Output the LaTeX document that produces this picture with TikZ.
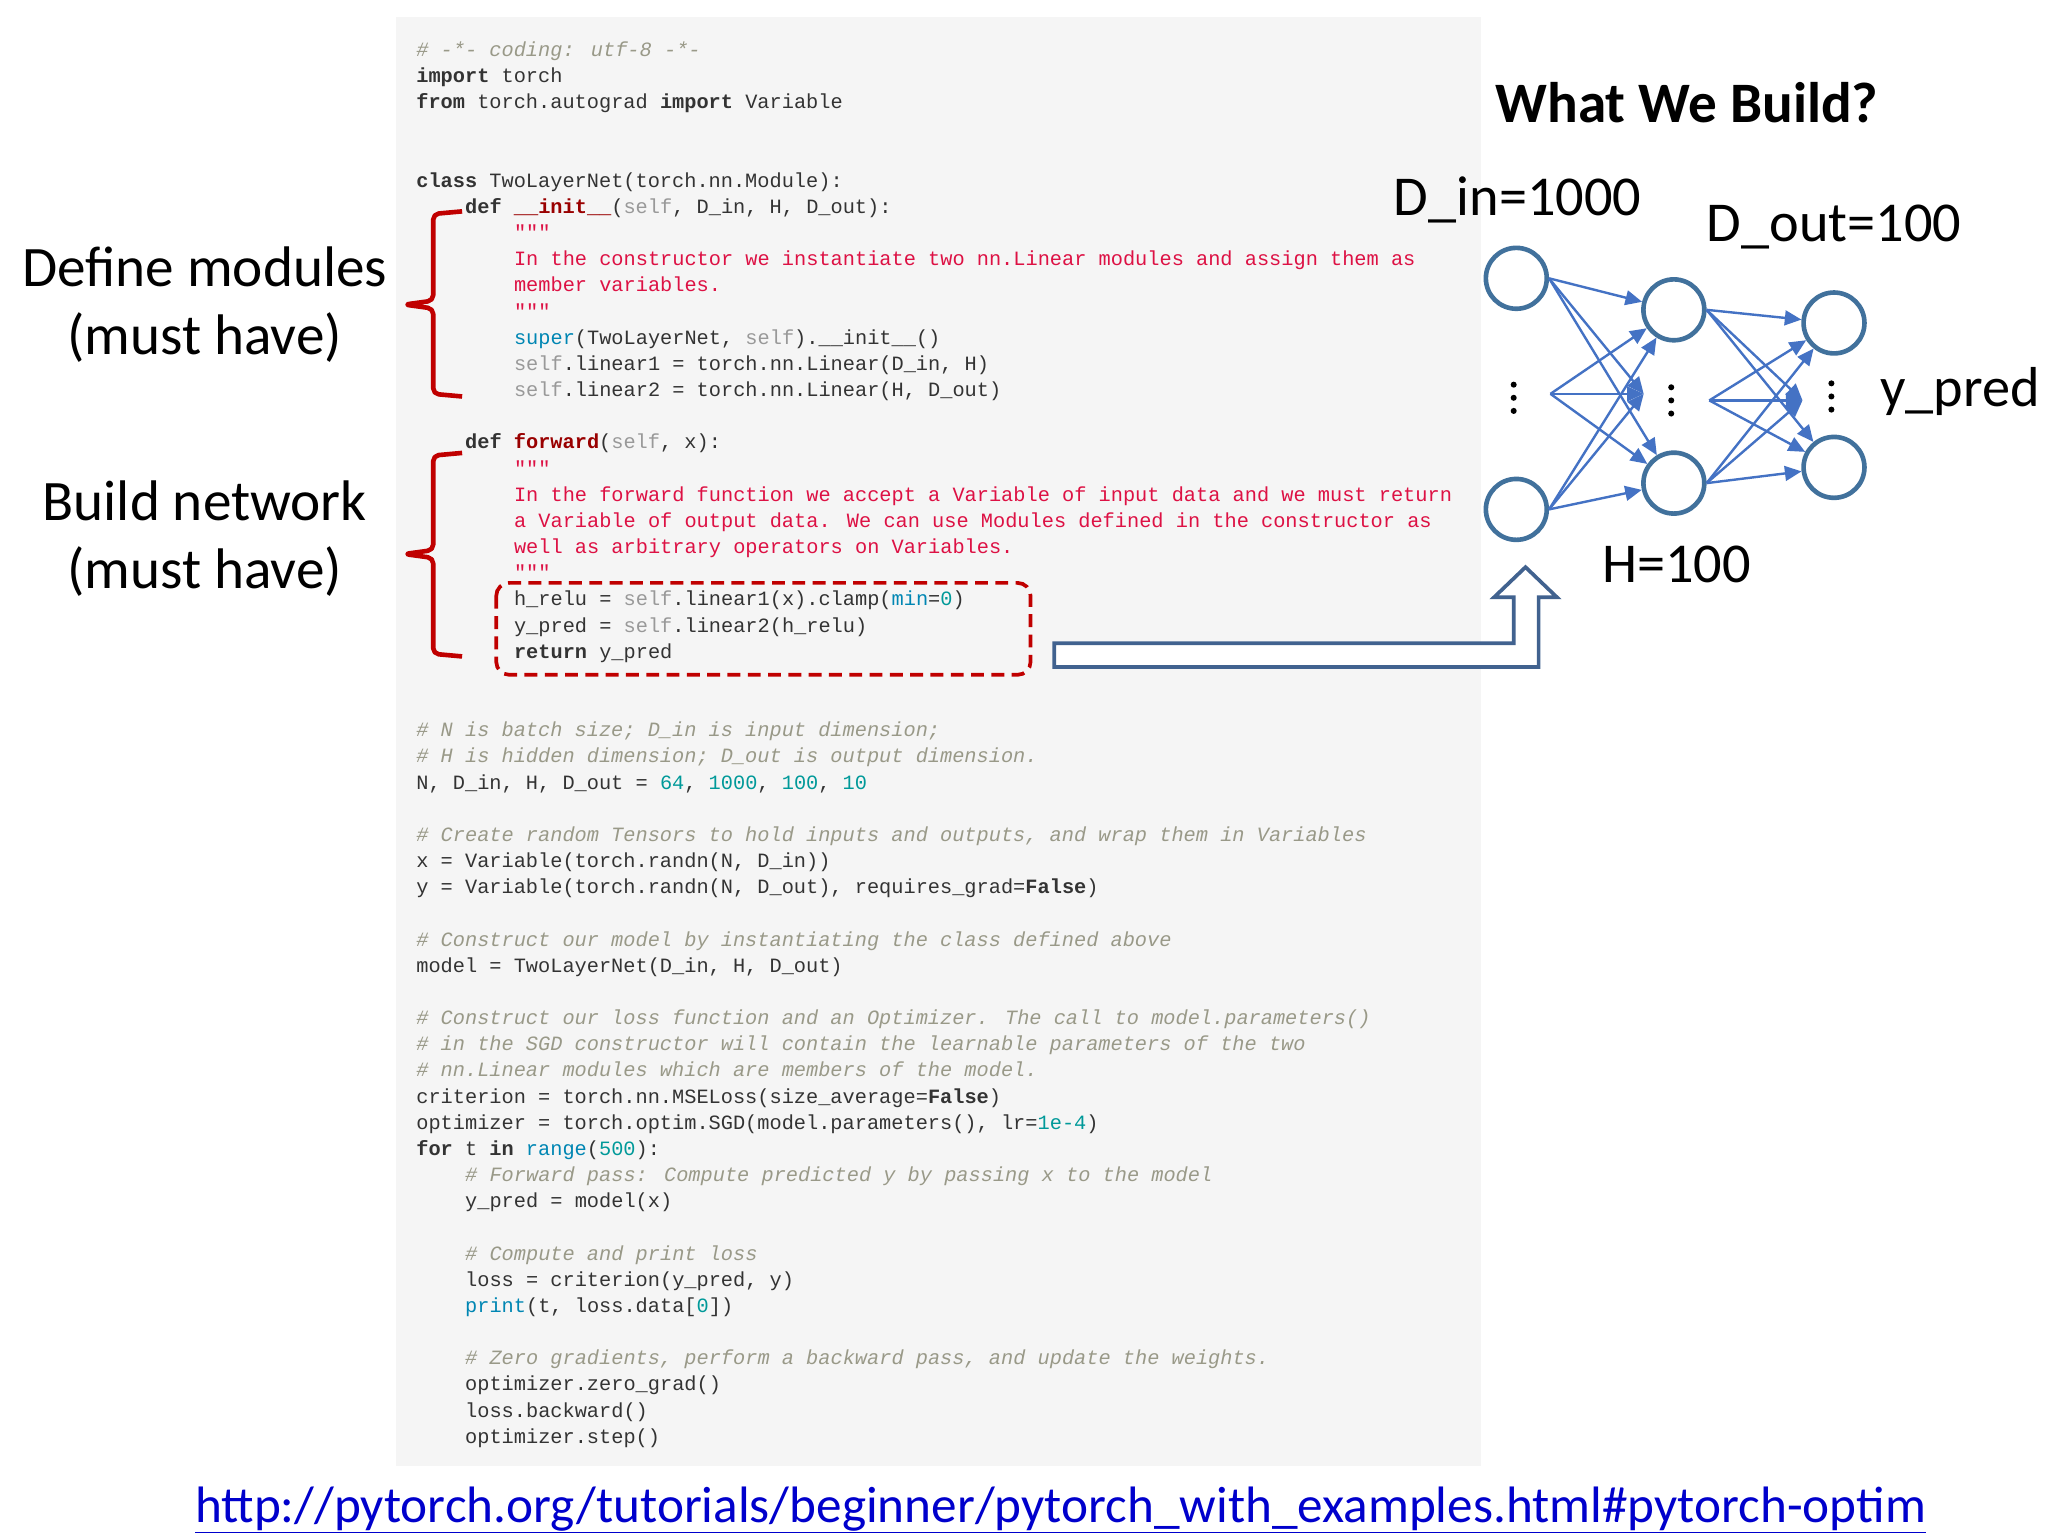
\documentclass[tikz,border=0pt]{standalone}
\usepackage{fontspec}
\setmainfont{Carlito}
\newfontfamily\codefont{Liberation Mono}
\definecolor{cmt}{HTML}{999988}
\definecolor{str}{HTML}{DD1144}
\definecolor{num}{HTML}{009999}
\definecolor{bin}{HTML}{0086B3}
\definecolor{slfc}{HTML}{999999}
\definecolor{fnc}{HTML}{990000}
\definecolor{txt}{HTML}{333333}
\definecolor{brc}{HTML}{C00000}
\definecolor{nn}{HTML}{4472C4}
\definecolor{nnd}{HTML}{41719C}
\definecolor{arr}{HTML}{41628F}
\newcommand{\kw}[1]{\textbf{#1}}
\newcommand{\cm}[1]{{\color{cmt}\itshape #1}}
\newcommand{\st}[1]{{\color{str}#1}}
\newcommand{\nm}[1]{{\color{num}#1}}
\newcommand{\bi}[1]{{\color{bin}#1}}
\newcommand{\slf}{{\color{slfc}self}}
\newcommand{\fn}[1]{{\color{fnc}\bfseries #1}}
\newcommand{\CL}[3]{\node[code] (c#1) at ({317+9.3*#2},{38+19.93*#1+5}) {#3};}
\newcommand{\VD}[2]{\foreach \dd in {-10,0,10}{\fill[black] (#1,#2+\dd) circle (2.3);}}
\tikzset{
 code/.style={anchor=base west,inner sep=0,text=txt,font=\codefont\fontsize{22}{26}\selectfont},
 lab/.style={font=\fontsize{62}{74}\selectfont,align=center,inner sep=0},
 nlab/.style={font=\fontsize{61}{66}\selectfont,inner sep=0},
 neuron/.style={circle,draw=nnd,line width=5pt,minimum size=66pt,inner sep=0},
 edge/.style={nn,line width=2.6pt,-{Triangle[length=18pt,width=16pt]}}
}
\usetikzlibrary{arrows.meta}
\begin{document}
\begin{tikzpicture}[x=0.05cm,y=-0.05cm]
\useasboundingbox (0,0) rectangle (1560,1170);
\fill[white] (0,0) rectangle (1560,1170);
\fill[black!4] (302,13) rectangle (1128,1117);
\CL{0}{0}{\cm{\# -*- coding: utf-8 -*-}}
\CL{1}{0}{\kw{import} torch}
\CL{2}{0}{\kw{from} torch.autograd \kw{import} Variable}
\CL{5}{0}{\kw{class} TwoLayerNet(torch.nn.Module):}
\CL{6}{4}{\kw{def} \fn{\_\_init\_\_}(\slf, D\_in, H, D\_out):}
\CL{7}{8}{\st{"""}}
\CL{8}{8}{\st{In the constructor we instantiate two nn.Linear modules and assign them as}}
\CL{9}{8}{\st{member variables.}}
\CL{10}{8}{\st{"""}}
\CL{11}{8}{\bi{super}(TwoLayerNet, \slf).\_\_init\_\_()}
\CL{12}{8}{\slf.linear1 = torch.nn.Linear(D\_in, H)}
\CL{13}{8}{\slf.linear2 = torch.nn.Linear(H, D\_out)}
\CL{15}{4}{\kw{def} \fn{forward}(\slf, x):}
\CL{16}{8}{\st{"""}}
\CL{17}{8}{\st{In the forward function we accept a Variable of input data and we must return}}
\CL{18}{8}{\st{a Variable of output data. We can use Modules defined in the constructor as}}
\CL{19}{8}{\st{well as arbitrary operators on Variables.}}
\CL{20}{8}{\st{"""}}
\CL{21}{8}{h\_relu = \slf.linear1(x).clamp(\bi{min}=\nm{0})}
\CL{22}{8}{y\_pred = \slf.linear2(h\_relu)}
\CL{23}{8}{\kw{return} y\_pred}
\CL{26}{0}{\cm{\# N is batch size; D\_in is input dimension;}}
\CL{27}{0}{\cm{\# H is hidden dimension; D\_out is output dimension.}}
\CL{28}{0}{N, D\_in, H, D\_out = \nm{64}, \nm{1000}, \nm{100}, \nm{10}}
\CL{30}{0}{\cm{\# Create random Tensors to hold inputs and outputs, and wrap them in Variables}}
\CL{31}{0}{x = Variable(torch.randn(N, D\_in))}
\CL{32}{0}{y = Variable(torch.randn(N, D\_out), requires\_grad=\kw{False})}
\CL{34}{0}{\cm{\# Construct our model by instantiating the class defined above}}
\CL{35}{0}{model = TwoLayerNet(D\_in, H, D\_out)}
\CL{37}{0}{\cm{\# Construct our loss function and an Optimizer. The call to model.parameters()}}
\CL{38}{0}{\cm{\# in the SGD constructor will contain the learnable parameters of the two}}
\CL{39}{0}{\cm{\# nn.Linear modules which are members of the model.}}
\CL{40}{0}{criterion = torch.nn.MSELoss(size\_average=\kw{False})}
\CL{41}{0}{optimizer = torch.optim.SGD(model.parameters(), lr=\nm{1e-4})}
\CL{42}{0}{\kw{for} t \kw{in} \bi{range}(\nm{500}):}
\CL{43}{4}{\cm{\# Forward pass: Compute predicted y by passing x to the model}}
\CL{44}{4}{y\_pred = model(x)}
\CL{46}{4}{\cm{\# Compute and print loss}}
\CL{47}{4}{loss = criterion(y\_pred, y)}
\CL{48}{4}{\bi{print}(t, loss.data[\nm{0}])}
\CL{50}{4}{\cm{\# Zero gradients, perform a backward pass, and update the weights.}}
\CL{51}{4}{optimizer.zero\_grad()}
\CL{52}{4}{loss.backward()}
\CL{53}{4}{optimizer.step()}
% braces
\draw[brc,line width=5pt,line join=round,rounded corners=6pt] (352,161) -- (330,163) -- (330,229) -- (308,232) -- (330,235) -- (330,300) -- (352,302);
\draw[brc,line width=5pt,line join=round,rounded corners=6pt] (352,345) -- (330,347) -- (330,419) -- (308,422) -- (330,425) -- (330,498) -- (352,500);
\node[lab] (l1) at (156,232) {Define modules\\(must have)};
\node[lab] (l2) at (156,410) {Build network\\(must have)};
% dashed box
\draw[brc,line width=4pt,dash pattern=on 14pt off 8pt,rounded corners=14pt] (378,444) rectangle (785,514);
% hollow arrow
\draw[arr,line width=4pt,line join=miter,fill=white] (803,490) -- (1153,490) -- (1153,455) -- (1138,455) -- (1162,432) -- (1186,455) -- (1172,455) -- (1172,508) -- (803,508) -- cycle;
% network
\node[font=\fontsize{62}{66}\selectfont\bfseries,inner sep=0] (title) at (1285,78) {What We Build?};
\node[neuron] (i1) at (1155,212) {};
\node[neuron] (i2) at (1155,388) {};
\node[neuron] (h1) at (1275,236) {};
\node[neuron] (h2) at (1275,368) {};
\node[neuron] (o1) at (1397,246) {};
\node[neuron] (o2) at (1397,356) {};
\coordinate (id) at (1181,300);
\coordinate (hd) at (1252,300);
\coordinate (hd2) at (1302,305);
\coordinate (od) at (1373,305);
\VD{1153}{303}
\VD{1273}{305}
\VD{1395}{302}
\foreach \s in {i1.east,id,i2.east}{
  \draw[edge] (\s) -- (h1);
  \draw[edge] (\s) -- (hd);
  \draw[edge] (\s) -- (h2);
}
\foreach \s in {h1.east,hd2,h2.east}{
  \draw[edge] (\s) -- (o1);
  \draw[edge] (\s) -- (od);
  \draw[edge] (\s) -- (o2);
}
\node[nlab] (din) at (1156,152) {D\_in=1000};
\node[nlab] (dout) at (1397,173) {D\_out=100};
\node[nlab] (hl) at (1277,430) {H=100};
\node[nlab] (yp) at (1493,298) {y\_pred};
\node[inner sep=0,font=\fontsize{55.5}{60}\selectfont,text=blue!80!black] (url) at (808,1150) {\underline{http://pytorch.org/tutorials/beginner/pytorch\_with\_examples.html\#pytorch-optim}};
\end{tikzpicture}
\end{document}
